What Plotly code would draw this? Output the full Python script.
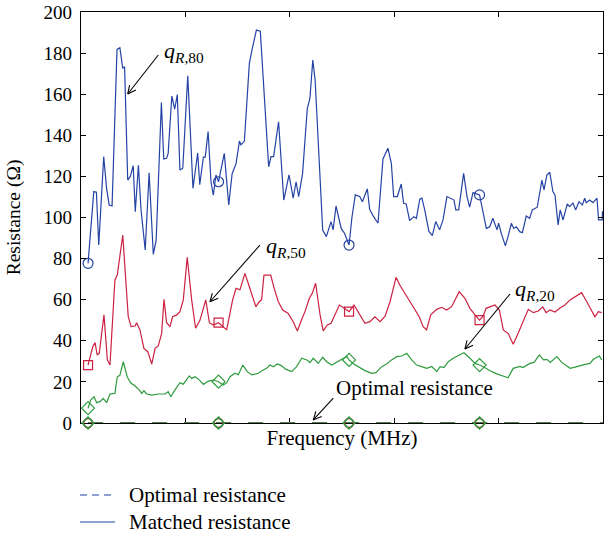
import math
import plotly.graph_objects as go

# ---------------- data ----------------
freq_blue = [2.7, 4.9, 5.9, 6.8, 8.7, 9.8, 10.8, 11.9, 13.8, 14.9, 16.0, 16.7, 17.9, 18.9, 20.0, 20.8,
             22.0, 23.0, 24.6, 26.1, 27.7, 28.8, 30.8, 31.7, 32.8, 33.4, 34.8, 35.9, 36.9, 37.9, 39.0,
             40.9, 42.9, 44.7, 45.5, 46.9, 47.6, 48.7, 49.8, 50.7, 51.7, 52.7, 54.9, 56.6, 57.9, 59.4,
             60.7, 61.3, 62.6, 64.5, 65.5, 67.2, 68.7, 71.9, 72.8, 73.8, 75.7, 77.7, 79.7, 81.3, 82.4,
             83.4, 84.9, 86.7, 87.7, 88.8, 89.7, 90.9, 92.6, 94.0, 95.8, 96.6, 97.7, 99.7, 101.0, 102.7,
             103.8, 105.1, 106.8, 107.8, 109.7, 110.6, 112.1, 113.8, 115.7, 117.6, 118.9, 119.8, 121.2,
             122.7, 123.6, 124.6, 125.9, 127.5, 128.5, 129.8, 130.6, 131.7, 133.3, 134.6, 135.9, 137.4,
             138.7, 140.2, 141.3, 142.9, 143.6, 144.7, 146.6, 147.9, 148.9, 150.2, 152.7, 153.7, 155.3,
             156.6, 157.8, 159.4, 160.0, 161.0, 162.6, 163.6, 164.9, 165.8, 166.8, 168.1, 169.1, 170.6,
             171.9, 172.9, 174.8, 176.6, 177.4, 178.5, 179.6, 180.8, 181.6, 182.8, 183.6, 184.7, 186.3,
             187.2, 188.5, 189.5, 190.8, 192.1, 193.0, 193.6, 194.9, 196.2, 197.7, 198.3, 199.7, 199.8]
r_blue = [77.7, 112.6, 112.3, 86.6, 129.6, 114.2, 106.1, 105.6, 181.8, 182.6, 172.6, 173.4, 118.2, 120.0,
          125.2, 102.8, 125.4, 103.7, 84.2, 121.8, 82.1, 89.0, 155.9, 128.5, 128.8, 131.2, 159.1, 152.8,
          159.8, 123.1, 124.0, 169.0, 114.2, 131.4, 116.0, 129.4, 129.4, 141.8, 117.4, 110.9, 120.7, 117.4,
          131.2, 106.1, 121.3, 126.2, 137.2, 135.3, 137.2, 175.0, 181.5, 191.2, 190.7, 124.7, 129.6, 129.6,
          146.6, 108.5, 120.8, 109.4, 117.4, 110.1, 121.5, 153.0, 157.9, 176.6, 166.9, 137.7, 93.9, 90.7,
          98.0, 94.0, 105.6, 94.7, 92.2, 86.6, 100.0, 111.0, 110.2, 107.7, 113.9, 104.0, 100.4, 97.2, 128.5,
          133.7, 126.4, 110.2, 110.2, 116.3, 106.9, 106.6, 98.5, 100.4, 99.6, 108.9, 109.4, 103.7, 93.2,
          91.2, 98.0, 94.0, 98.8, 110.2, 109.4, 108.5, 103.7, 103.7, 121.5, 110.2, 105.0, 112.1, 111.0,
          104.0, 94.7, 95.5, 99.6, 94.0, 97.2, 92.4, 86.2, 90.7, 97.2, 94.7, 95.5, 93.1, 92.6, 100.7, 99.6,
          103.7, 105.0, 118.2, 113.4, 120.7, 122.0, 112.6, 111.0, 96.4, 103.7, 98.8, 106.6, 105.3, 107.0,
          103.7, 107.7, 106.1, 109.4, 107.2, 108.5, 107.2, 109.4, 98.8, 98.8, 103.0]

freq_red = [2.7, 4.5, 5.4, 6.2, 7.0, 8.8, 10.1, 11.1, 13.0, 13.9, 16.0, 18.1, 19.2, 20.7, 21.3, 22.6,
            24.1, 25.6, 27.1, 28.4, 29.6, 30.9, 31.8, 32.8, 34.1, 35.1, 36.7, 37.9, 39.2, 40.7, 42.4,
            43.9, 45.6, 47.8, 49.2, 50.7, 52.7, 54.5, 55.8, 58.1, 59.4, 60.9, 62.8, 64.5, 66.0, 67.0,
            68.3, 69.2, 70.1, 72.7, 73.9, 75.6, 77.3, 79.4, 81.3, 82.9, 84.2, 85.8, 87.5, 88.6, 89.9,
            91.6, 92.8, 94.4, 95.8, 97.3, 99.0, 100.8, 102.7, 104.6, 106.2, 108.8, 110.7, 112.6, 114.6,
            116.5, 118.4, 119.7, 120.7, 122.2, 124.8, 127.3, 129.6, 131.1, 132.4, 134.0, 136.3, 138.2,
            140.1, 142.0, 143.3, 144.9, 147.1, 149.0, 151.0, 152.7, 154.1, 155.2, 156.7, 158.6, 160.3,
            161.8, 163.7, 165.6, 167.2, 169.5, 171.4, 173.3, 175.2, 176.9, 178.2, 179.7, 181.6, 183.5,
            185.4, 187.4, 189.3, 191.8, 193.8, 195.7, 196.9, 198.2, 199.5]
r_red = [28.2, 37.1, 39.1, 33.1, 34.0, 52.6, 30.7, 28.2, 69.6, 72.0, 91.5, 51.7, 46.9, 47.2, 48.8, 45.3,
         36.3, 34.7, 28.7, 36.3, 37.5, 43.6, 60.2, 48.8, 46.9, 51.7, 52.6, 54.2, 59.9, 80.6, 59.9, 46.1,
         50.1, 59.9, 48.8, 47.7, 48.8, 46.9, 45.3, 59.9, 65.5, 64.8, 72.8, 66.3, 60.7, 56.6, 59.0, 60.0,
         72.0, 72.0, 66.0, 59.0, 55.0, 53.3, 49.3, 44.8, 49.3, 54.2, 60.7, 63.1, 68.0, 52.6, 44.8, 47.7,
         48.5, 53.0, 57.4, 56.0, 54.2, 57.4, 54.2, 48.5, 49.3, 51.7, 49.3, 52.0, 59.0, 66.3, 70.9, 67.0,
         61.5, 56.6, 51.7, 46.9, 45.3, 52.6, 55.3, 56.3, 55.0, 56.6, 59.9, 63.9, 60.7, 55.8, 52.6, 50.1,
         52.0, 55.8, 56.5, 57.4, 55.0, 45.3, 43.5, 38.3, 42.8, 50.1, 55.3, 53.7, 54.5, 56.5, 53.7, 55.0,
         54.0, 56.0, 57.4, 59.9, 61.5, 63.4, 59.0, 54.2, 51.7, 54.2, 53.7]

freq_green = [2.7, 3.7, 5.0, 6.0, 7.3, 8.5, 9.8, 11.1, 13.0, 13.9, 14.9, 16.2, 17.7, 19.0, 20.7, 22.3,
              23.3, 24.1, 25.2, 27.1, 29.6, 32.2, 33.4, 34.4, 36.0, 37.9, 39.2, 41.5, 42.4, 43.7, 45.3,
              46.9, 48.8, 50.7, 52.7, 54.5, 55.8, 57.1, 59.0, 60.3, 62.0, 63.7, 65.4, 67.9, 69.8, 71.1,
              72.4, 73.7, 75.2, 76.9, 78.5, 80.7, 82.6, 84.6, 86.5, 87.7, 89.0, 90.9, 92.6, 94.1, 96.1,
              98.0, 99.9, 101.8, 102.7, 104.2, 106.2, 108.8, 111.4, 113.0, 115.2, 117.1, 119.0, 121.0,
              122.9, 124.8, 126.7, 128.6, 130.5, 132.5, 134.4, 136.3, 137.6, 139.1, 140.7, 142.6, 145.0,
              146.7, 149.0, 151.0, 152.7, 154.1, 156.7, 159.3, 162.5, 163.6, 165.6, 168.2, 169.3, 172.0,
              173.6, 175.6, 177.2, 178.5, 179.8, 182.3, 184.2, 185.8, 187.4, 189.3, 191.1, 193.1, 195.0,
              196.3, 198.6, 199.5]
r_green = [7.2, 11.2, 12.8, 9.9, 10.4, 12.0, 9.9, 14.1, 14.4, 22.5, 23.2, 29.8, 22.5, 19.6, 18.0, 16.1,
           14.4, 15.7, 14.1, 13.6, 14.1, 14.1, 15.2, 12.8, 16.1, 19.6, 18.9, 22.9, 21.7, 22.5, 21.0, 18.8,
           20.4, 20.9, 20.1, 18.5, 19.5, 22.5, 24.2, 23.5, 28.2, 25.0, 23.4, 24.2, 25.8, 26.6, 28.2, 27.4,
           28.7, 27.8, 26.1, 25.0, 27.4, 31.5, 30.7, 29.4, 31.5, 29.0, 32.0, 29.8, 28.2, 29.8, 31.0, 32.3,
           30.7, 29.0, 27.4, 25.5, 24.2, 24.5, 27.4, 28.7, 30.7, 32.3, 32.6, 33.9, 30.7, 28.2, 27.4, 26.6,
           27.5, 25.0, 27.4, 27.0, 29.8, 31.5, 33.1, 34.2, 31.5, 29.0, 28.2, 27.4, 25.4, 23.9, 22.5, 22.0,
           26.6, 27.5, 27.0, 29.0, 29.5, 33.1, 30.7, 31.0, 29.5, 32.3, 29.5, 28.0, 26.6, 27.2, 28.0, 28.5,
           29.0, 31.0, 32.6, 30.7]

marker_freq = [2.7, 52.7, 102.7, 152.7]
mark_blue = [77.7, 117.4, 86.6, 111.0]
mark_red = [28.2, 48.8, 54.2, 50.1]
mark_green = [7.2, 20.1, 30.7, 28.2]
mark_opt = [0, 0, 0, 0]

opt_freq = [2.7, 199.8]
opt_val = [0, 0]

y_ticks = [0, 20, 40, 60, 80, 100, 120, 140, 160, 180, 200]
x_ticks = [0, 40, 80, 120, 160, 200]
legend_names = ["Optimal resistance", "Matched resistance"]

# ---------------- style ----------------
BLUE = "#2543a5"
RED = "#cc2140"
GREEN = "#2e9b3e"
FONT = "Liberation Serif"
W, H = 610, 537
ML, MR, MT, MB = 81, 7, 12, 114
X_RANGE = [0, 200]
Y_RANGE = [0, 200]
PW, PH = W - ML - MR, H - MT - MB
SX = PW / (X_RANGE[1] - X_RANGE[0])
SY = PH / (Y_RANGE[1] - Y_RANGE[0])

fig = go.Figure()

# optimal resistance (dashed, at zero)
for c in (BLUE, RED, GREEN):
    fig.add_trace(go.Scatter(x=opt_freq, y=opt_val, mode="lines",
                             line=dict(color=c, width=1.6, dash="15px,17px"),
                             showlegend=False, cliponaxis=False, hoverinfo="skip"))

# matched resistance curves
for fx, fy, c in ((freq_blue, r_blue, BLUE), (freq_red, r_red, RED), (freq_green, r_green, GREEN)):
    fig.add_trace(go.Scatter(x=fx, y=fy, mode="lines", line=dict(color=c, width=1.2),
                             showlegend=False))

# markers on curves
for vals, c, sym, sz in ((mark_blue, BLUE, "circle-open", 10), (mark_red, RED, "square-open", 9),
                         (mark_green, GREEN, "diamond-open", 10)):
    fig.add_trace(go.Scatter(x=marker_freq, y=vals, mode="markers",
                             marker=dict(symbol=sym, size=sz, color=c, line=dict(width=1.2, color=c)),
                             showlegend=False))

# markers at the optimal (zero) line
fig.add_trace(go.Scatter(x=marker_freq, y=mark_opt, mode="markers", cliponaxis=False,
                         marker=dict(symbol="circle-open", size=9, color=RED, line=dict(width=1.5, color=RED)),
                         showlegend=False))
fig.add_trace(go.Scatter(x=marker_freq, y=mark_opt, mode="markers", cliponaxis=False,
                         marker=dict(symbol="diamond-open", size=9, color=GREEN, line=dict(width=1.5, color=GREEN)),
                         showlegend=False))

# ---------------- annotations ----------------
def arrow(tip_x, tip_y, ax, ay):
    # ax, ay: offset of the tail from the tip in pixels (ay positive downwards)
    fig.add_shape(type="line", xref="x", yref="y", x0=tip_x, y0=tip_y,
                  x1=tip_x + ax / SX, y1=tip_y - ay / SY,
                  line=dict(color="black", width=1.1))
    L = math.hypot(ax, ay)
    ux, uy = ax / L, ay / L
    for ang in (0.45, -0.45):
        dx = 9 * (ux * math.cos(ang) - uy * math.sin(ang))
        dy = 9 * (ux * math.sin(ang) + uy * math.cos(ang))
        fig.add_shape(type="line", xref="x", yref="y", x0=tip_x, y0=tip_y,
                      x1=tip_x + dx / SX, y1=tip_y - dy / SY,
                      line=dict(color="black", width=1.1))

arrow(17.9, 160.1, 30.6, -39)
arrow(49.4, 59.0, 50, -56.7)
arrow(147.1, 36.0, 45, -55)
arrow(89.0, 1.5, 20, -21.7)

def qlabel(x, y, sub):
    fig.add_annotation(x=x, y=y, xref="x", yref="y", xanchor="left", yanchor="middle",
                       text="<i>q</i><sub><i>R</i>,%s</sub>" % sub, showarrow=False,
                       font=dict(family=FONT, size=22, color="black"))

qlabel(31.0, 180.5, "80")
qlabel(70.1, 85.6, "50")
qlabel(165.5, 64.7, "20")
fig.add_annotation(x=97.0, y=17.0, xref="x", yref="y", xanchor="left", yanchor="middle",
                   text="Optimal resistance", showarrow=False,
                   font=dict(family=FONT, size=21, color="black"))

# ---------------- manual legend (below the plot) ----------------
def paper_x(px):
    return (px - ML) / PW

def paper_y(py):
    return (H - MB - py) / PH

for i, (name, dash) in enumerate(zip(legend_names, ["7px,5px", "solid"])):
    py = 495 + 27 * i
    fig.add_shape(type="line", xref="paper", yref="paper",
                  x0=paper_x(80), x1=paper_x(115), y0=paper_y(py), y1=paper_y(py),
                  line=dict(color=BLUE, width=1.2, dash=dash))
    fig.add_annotation(x=paper_x(127), y=paper_y(py), xref="paper", yref="paper",
                       xanchor="left", yanchor="middle", text=name, showarrow=False,
                       font=dict(family=FONT, size=21, color="black"))

axis_common = dict(showline=True, linecolor="black", linewidth=1.3, mirror="ticks",
                   ticks="inside", ticklen=5, tickwidth=1, tickcolor="black",
                   showgrid=False, zeroline=False, automargin=False)

fig.update_layout(
    width=W, height=H,
    margin=dict(l=ML, r=MR, t=MT, b=MB),
    paper_bgcolor="white", plot_bgcolor="white",
    showlegend=False,
    font=dict(family=FONT, size=19, color="black"),
    xaxis=dict(range=X_RANGE, tickvals=x_ticks, showticklabels=False,
               title=dict(text="Frequency (MHz)", font=dict(family=FONT, size=21), standoff=7),
               layer="below traces", **axis_common),
    yaxis=dict(range=Y_RANGE, tickvals=y_ticks, ticklabelstandoff=4,
               title=dict(text="Resistance (Ω)", font=dict(family=FONT, size=19.5), standoff=17),
               tickfont=dict(family=FONT, size=19), **axis_common),
)

fig.write_html("out.html")
